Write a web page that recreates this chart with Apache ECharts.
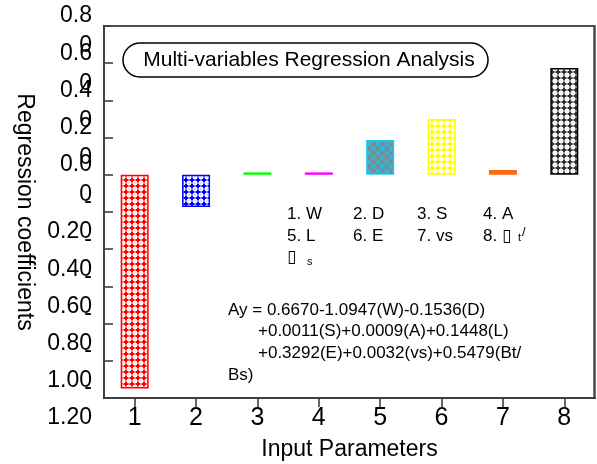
<!DOCTYPE html>
<html><head><meta charset="utf-8">
<script src="https://cdn.jsdelivr.net/npm/echarts@6/dist/echarts.min.js"></script>
<style>html,body{margin:0;padding:0;background:#fff}#c{width:597px;height:464px}</style>
</head><body><div id="c"></div>
<script>
// ---- data ----
const categories = ['1', '2', '3', '4', '5', '6', '7', '8'];
const coefficients = [-1.149, -0.173, 0.013, 0.013, 0.187, 0.300, 0.026, 0.574];
const barColors = ['#ff0000', '#0000ff', '#00ff00', '#ff00ff', '#18c8f0', '#ffff00', '#ff6a10', '#000000'];
const patternKinds = ['plus', 'plus', 'solid', 'solid', 'rings', 'plus', 'solid', 'plus'];
const yTickValues = [0.8, 0.6, 0.4, 0.2, 0.0, -0.2, -0.4, -0.6, -0.8, -1.0, -1.2];
// tick labels as they appear in the figure: an upper line and a lower line per tick
const yTickLabelsUpper = ['0.8', '0.6', '0.4', '0.2', '0.0', '-', '-', '-', '-', '-', '-'];
const yTickLabelsLower = ['0', '0', '0', '0', '0', '0.20', '0.40', '0.60', '0.80', '1.00', '1.20'];
const titleText = 'Multi-variables Regression Analysis';
const paramLabels = ['1. W', '2. D', '3. S', '4. A', '5. L', '6. E', '7. vs', '8. \u25AF'];
const equationLines = [
  'Ay = 0.6670-1.0947(W)-0.1536(D)',
  '+0.0011(S)+0.0009(A)+0.1448(L)',
  '+0.3292(E)+0.0032(vs)+0.5479(Bt/',
  'Bs)'
];

const FONT = '"Liberation Sans", Arial, "DejaVu Sans", sans-serif';

function makeFill(kind, color) {
  if (kind === 'solid') return color;
  const c = document.createElement('canvas');
  const g = c.getContext('2d');
  if (kind === 'plus') {
    c.width = 6; c.height = 6;
    g.fillStyle = color === '#000000' ? '#333333' : color;
    g.fillRect(0, 0, 6, 6);
    g.fillStyle = '#ffffff';
    g.fillRect(1, 1, 4, 4);
    g.fillRect(0.5, 2, 5, 2);
    g.fillRect(2, 0.5, 2, 5);
    g.fillStyle = color === '#000000' ? '#999999' : color;
    g.globalAlpha = 0.45;
    g.fillRect(2.5, 2.5, 1, 1);
  } else {
    c.width = 9; c.height = 9;
    g.fillStyle = color; g.fillRect(0, 0, 9, 9);
    g.strokeStyle = '#7d8c92'; g.lineWidth = 1.2;
    [[4.5, 4.5], [0, 0], [9, 0], [0, 9], [9, 9]].forEach(p => {
      g.beginPath(); g.arc(p[0], p[1], 4.2, 0, Math.PI * 2); g.stroke();
    });
  }
  return { image: c, repeat: 'repeat' };
}

function labelFrom(arr) {
  return function (v) {
    const r = Math.round(v * 10) / 10;
    const i = yTickValues.findIndex(t => Math.abs(t - r) < 1e-6);
    return i >= 0 ? arr[i] : '';
  };
}

const chart = echarts.init(document.getElementById('c'), null, { renderer: 'canvas' });

const G = { left: 104, right: 2, top: 26, bottom: 66 };
const legendCols = [287, 353, 417, 483];
const legendRows = [214, 236];
const graphics = [];
graphics.push({
  type: 'rect', shape: { x: 123, y: 43, width: 365, height: 34, r: 17 },
  style: { fill: 'rgba(0,0,0,0)', stroke: '#000', lineWidth: 1.5 }, z: 10
});
// plot frame, on its own layer
graphics.push({
  type: 'rect', zlevel: 1, z: 10,
  shape: { x: G.left, y: G.top, width: 597 - G.left - G.right - 1, height: 464 - G.top - G.bottom },
  style: { fill: 'rgba(0,0,0,0)', stroke: '#444', lineWidth: 1.5 }
});
graphics.push({
  type: 'text', x: 309, y: 60, z: 11,
  style: { text: titleText, font: '21px ' + FONT, fill: '#000', textAlign: 'center', textVerticalAlign: 'middle' }
});
paramLabels.forEach((t, i) => {
  graphics.push({
    type: 'text', x: legendCols[i % 4], y: legendRows[Math.floor(i / 4)], z: 11,
    style: { text: t, font: '17px ' + FONT, fill: '#000', textAlign: 'left', textVerticalAlign: 'middle' }
  });
});
graphics.push({ type: 'text', x: 518, y: 243, z: 11, style: { text: 't', font: '11px ' + FONT, fill: '#000', textVerticalAlign: 'bottom' } });
graphics.push({ type: 'text', x: 522, y: 239, z: 11, style: { text: '/', font: '13px ' + FONT, fill: '#000', textVerticalAlign: 'bottom' } });
graphics.push({ type: 'text', x: 287, y: 257, z: 11, style: { text: '\u25AF', font: '17px ' + FONT, fill: '#000', textVerticalAlign: 'middle' } });
graphics.push({ type: 'text', x: 307, y: 267, z: 11, style: { text: 's', font: '11px ' + FONT, fill: '#000', textVerticalAlign: 'bottom' } });

const eqX = [228, 258, 258, 228];
const eqY = [310, 331, 353, 375];
equationLines.forEach((t, i) => {
  graphics.push({
    type: 'text', x: eqX[i], y: eqY[i], z: 11,
    style: { text: t, font: '17px ' + FONT, fill: '#000', textAlign: 'left', textVerticalAlign: 'middle' }
  });
});

const yCommon = { type: 'value', min: -1.2, max: 0.8, interval: 0.2, position: 'left', splitLine: { show: false } };

chart.setOption({
  animation: false,
  backgroundColor: '#ffffff',
  textStyle: { fontFamily: FONT },
  grid: {
    left: G.left, right: G.right, top: G.top, bottom: G.bottom, containLabel: false, outerBoundsMode: 'none',
    show: true, borderColor: '#444', borderWidth: 1.5, backgroundColor: 'rgba(0,0,0,0)'
  },
  xAxis: {
    type: 'category', data: categories, boundaryGap: true,
    name: 'Input Parameters', nameLocation: 'middle', nameGap: 40,
    nameTextStyle: { fontSize: 23, color: '#000', fontFamily: FONT },
    axisLine: { show: true, onZero: false, lineStyle: { color: '#333', width: 2 } },
    axisTick: { show: true, alignWithLabel: true, inside: false, length: 9, lineStyle: { color: '#333', width: 1.5 } },
    axisLabel: { fontSize: 25, color: '#000', margin: 8, fontFamily: FONT, interval: 0 },
    splitLine: { show: false }
  },
  yAxis: [Object.assign({}, yCommon, {
    name: 'Regression coefficients', nameLocation: 'middle', nameRotate: -90, nameGap: 68,
    nameTextStyle: { fontSize: 23, color: '#000', fontFamily: FONT },
    axisLine: { show: true, onZero: false, lineStyle: { color: '#333', width: 2 } },
    axisTick: { show: true, inside: true, length: 9, lineStyle: { color: '#333', width: 1.5 } },
    axisLabel: {
      formatter: labelFrom(yTickLabelsUpper), fontSize: 23, color: '#000', margin: 12,
      lineHeight: 20, verticalAlign: 'bottom', align: 'right', fontFamily: FONT,
      showMinLabel: true, showMaxLabel: true
    }
  }), Object.assign({}, yCommon, {
    offset: 0,
    axisLine: { show: false, onZero: false }, axisTick: { show: false },
    axisLabel: {
      formatter: labelFrom(yTickLabelsLower), fontSize: 23, color: '#000', margin: 12,
      lineHeight: 20, verticalAlign: 'top', padding: [10, 0, 0, 0], align: 'right', fontFamily: FONT,
      showMinLabel: true, showMaxLabel: true
    }
  })],
  series: [{
    type: 'bar', barWidth: 28, xAxisIndex: 0, yAxisIndex: 0,
    data: coefficients.map((v, i) => ({
      value: v,
      itemStyle: { color: makeFill(patternKinds[i], barColors[i]), borderColor: barColors[i], borderWidth: 1.5 }
    }))
  }],
  graphic: graphics
});
</script></body></html>
